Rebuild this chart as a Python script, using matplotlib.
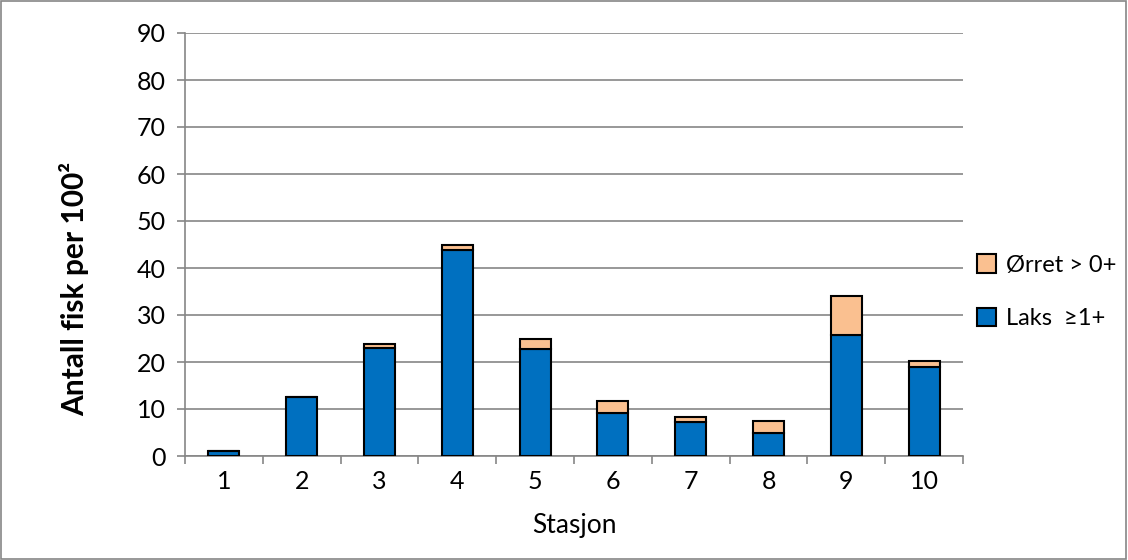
import matplotlib.pyplot as plt
import numpy as np
from matplotlib.patches import Rectangle

plt.rcParams['font.family'] = ['Lato', 'DejaVu Sans']

stasjon = ['1', '2', '3', '4', '5', '6', '7', '8', '9', '10']
laks = [1.0, 12.6, 22.9, 43.8, 22.8, 9.2, 7.2, 5.0, 25.7, 19.0]
orret = [0.0, 0.0, 1.0, 1.0, 2.1, 2.4, 1.2, 2.4, 8.4, 1.3]

fig = plt.figure(figsize=(11.28, 5.6), dpi=100)
ax = fig.add_axes([185/1128, 1 - 456/560, (963-185)/1128, (456-33)/560])

x = np.arange(1, len(stasjon) + 1)
b1 = ax.bar(x, laks, width=0.4, color='#0070C0', edgecolor='black', linewidth=1.5,
            label='Laks  \u22651+', zorder=3)
b2 = ax.bar(x, orret, width=0.4, bottom=laks, color='#FAC090', edgecolor='black',
            linewidth=1.5, label='\u00d8rret > 0+', zorder=3)

ax.set_xlim(0.5, 10.5)
ax.set_ylim(0, 90)
ax.set_yticks(np.arange(0, 91, 10))
ax.set_xticks(x)
ax.set_xticklabels(stasjon)
ax.set_xticks(np.arange(0.5, 10.6, 1), minor=True)
ax.tick_params(axis='x', which='major', length=0, labelsize=18, pad=10)
ax.tick_params(axis='x', which='minor', length=6, color='#868686', width=1.2)
ax.tick_params(axis='y', length=6, color='#868686', width=1.2, labelsize=18, pad=8)
ax.grid(axis='y', color='#868686', linewidth=1.2, zorder=0)
for s in ['top', 'right']:
    ax.spines[s].set_visible(False)
for s in ['left', 'bottom']:
    ax.spines[s].set_color('#868686')
    ax.spines[s].set_linewidth(1.2)

ax.set_xlabel('Stasjon', fontsize=19)
ax.xaxis.set_label_coords(0.5, -0.134)
ax.set_ylabel('Antall fisk per 100\u00b2', fontsize=21.5, fontweight='bold')
ax.yaxis.set_label_coords(-0.123, 0.395)

ax.legend(handles=[b2, b1], loc='upper left', bbox_to_anchor=(968/1128, 1 - 245/560),
          bbox_transform=fig.transFigure, frameon=False, fontsize=17,
          handlelength=0.8, handleheight=0.8, labelspacing=1.35, handletextpad=0.4,
          borderaxespad=0)

fig.patches.append(Rectangle((0.001, 0.002), 0.997, 0.996, transform=fig.transFigure,
                             fill=False, edgecolor='#868686', linewidth=1.2))

fig.savefig('out.png', dpi=100)
